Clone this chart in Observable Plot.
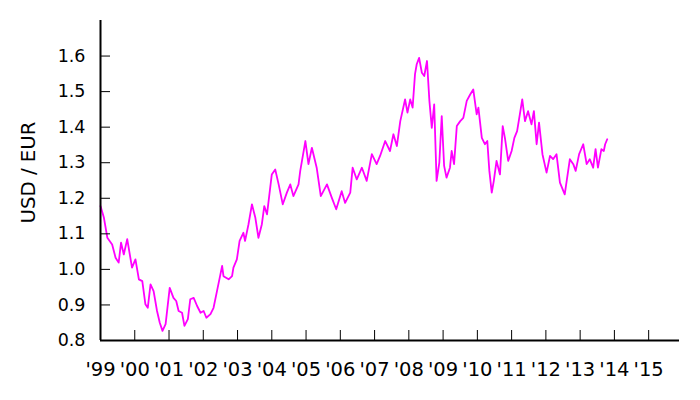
<!DOCTYPE html>
<html>
<head>
<meta charset="utf-8">
<script src="https://cdn.jsdelivr.net/npm/d3@7"></script>
<script src="https://cdn.jsdelivr.net/npm/@observablehq/plot@0.6"></script>
<style>
  html, body { margin: 0; padding: 0; background: #ffffff; }
  #chart { width: 700px; height: 400px; }
</style>
</head>
<body>
<div id="chart"></div>
<script>
// Decimal year of each observation
const dates = [
  1999.00, 1999.10, 1999.20, 1999.34, 1999.44, 1999.53, 1999.60, 1999.68, 1999.78, 1999.92,
  2000.02, 2000.12, 2000.22, 2000.31, 2000.38, 2000.46, 2000.55, 2000.65, 2000.73, 2000.81, 2000.90,
  2001.02, 2001.13, 2001.21, 2001.28, 2001.38, 2001.45, 2001.55, 2001.62, 2001.72, 2001.82, 2001.92,
  2002.01, 2002.09, 2002.21, 2002.30, 2002.40, 2002.50, 2002.55, 2002.59, 2002.74, 2002.84, 2002.88, 2002.98,
  2003.06, 2003.17, 2003.22, 2003.32, 2003.42, 2003.52, 2003.61, 2003.71, 2003.78, 2003.86,
  2004.00, 2004.10, 2004.20, 2004.32, 2004.44, 2004.54, 2004.63, 2004.78, 2004.83, 2004.98,
  2005.07, 2005.17, 2005.31, 2005.43, 2005.61, 2005.75, 2005.88,
  2006.04, 2006.14, 2006.29, 2006.36, 2006.48, 2006.63, 2006.77, 2006.92,
  2007.06, 2007.16, 2007.31, 2007.45, 2007.55, 2007.65, 2007.75, 2007.89, 2007.96,
  2008.04, 2008.11, 2008.18, 2008.23, 2008.30, 2008.38, 2008.45, 2008.53, 2008.60, 2008.67, 2008.74, 2008.81, 2008.89, 2008.96,
  2009.03, 2009.10, 2009.20, 2009.25, 2009.32, 2009.40, 2009.50, 2009.59, 2009.69, 2009.79, 2009.88, 2009.98,
  2010.03, 2010.13, 2010.22, 2010.29, 2010.35, 2010.42, 2010.48, 2010.56, 2010.66, 2010.74, 2010.81, 2010.90,
  2011.00, 2011.08, 2011.16, 2011.24, 2011.31, 2011.39, 2011.48, 2011.58, 2011.65, 2011.73, 2011.80, 2011.90,
  2012.02, 2012.12, 2012.21, 2012.31, 2012.41, 2012.55, 2012.70, 2012.80, 2012.87, 2012.97,
  2013.09, 2013.19, 2013.28, 2013.38, 2013.45, 2013.52, 2013.62, 2013.69, 2013.73, 2013.79
];
// USD per EUR
const rates = [
  1.178, 1.145, 1.089, 1.070, 1.033, 1.019, 1.075, 1.042, 1.085, 1.005,
  1.028, 0.972, 0.967, 0.902, 0.892, 0.958, 0.939, 0.883, 0.850, 0.827, 0.846,
  0.948, 0.920, 0.911, 0.883, 0.878, 0.841, 0.860, 0.916, 0.920, 0.897, 0.878,
  0.883, 0.864, 0.874, 0.892, 0.939, 0.986, 1.010, 0.981, 0.972, 0.981, 1.005, 1.028,
  1.080, 1.103, 1.080, 1.127, 1.183, 1.145, 1.089, 1.127, 1.178, 1.155,
  1.267, 1.281, 1.239, 1.183, 1.216, 1.239, 1.206, 1.239, 1.277, 1.361,
  1.296, 1.342, 1.286, 1.206, 1.239, 1.202, 1.169,
  1.220, 1.187, 1.216, 1.286, 1.253, 1.286, 1.249, 1.324,
  1.296, 1.319, 1.361, 1.333, 1.380, 1.347, 1.417, 1.478, 1.441,
  1.478, 1.455, 1.549, 1.577, 1.595, 1.553, 1.544, 1.586, 1.474, 1.398, 1.464, 1.249, 1.300, 1.431,
  1.291, 1.258, 1.286, 1.333, 1.296, 1.403, 1.417, 1.426, 1.474, 1.492, 1.506, 1.436,
  1.455, 1.370, 1.352, 1.361, 1.277, 1.216, 1.249, 1.305, 1.267, 1.403, 1.366, 1.305,
  1.333, 1.370, 1.389, 1.436, 1.478, 1.417, 1.445, 1.408, 1.445, 1.352, 1.413, 1.324,
  1.272, 1.319, 1.310, 1.324, 1.244, 1.211, 1.310, 1.296, 1.277, 1.324,
  1.352, 1.296, 1.310, 1.286, 1.338, 1.286, 1.338, 1.333, 1.352, 1.366
];
const yearTicks = [1999, 2000, 2001, 2002, 2003, 2004, 2005, 2006, 2007, 2008, 2009, 2010, 2011, 2012, 2013, 2014, 2015];
const rateTicks = [0.8, 0.9, 1.0, 1.1, 1.2, 1.3, 1.4, 1.5, 1.6];
const yLabel = "USD / EUR";

const data = dates.map((d, i) => ({date: d, rate: rates[i]}));

const chart = Plot.plot({
  width: 700,
  height: 400,
  marginLeft: 100,
  marginRight: 21,
  marginTop: 20,
  marginBottom: 60,
  style: {fontFamily: "DejaVu Sans", fontSize: "17px", color: "black", background: "white"},
  x: {domain: [1999, 2015.9]},
  y: {domain: [0.8, 1.7]},
  marks: [
    Plot.line(data, {x: "date", y: "rate", stroke: "#ff00ff", strokeWidth: 1.8}),
    Plot.axisX(yearTicks, {tickSize: -10, tickFormat: () => "", label: null, stroke: "black"}),
    Plot.axisX(yearTicks, {tickSize: 0, tickPadding: 22, label: null, fontSize: 19.5,
      tickFormat: d => "'" + String(d % 100).padStart(2, "0")}),
    Plot.axisY(rateTicks, {tickSize: -10, tickFormat: () => "", label: null, stroke: "black"}),
    Plot.axisY(rateTicks, {tickSize: 0, tickPadding: 15, label: null, fontSize: 17.5, tickFormat: d3.format(".1f")}),
    Plot.ruleY([0.8], {stroke: "black", strokeWidth: 2}),
    Plot.ruleX([1999], {stroke: "black", strokeWidth: 2}),
    Plot.text([yLabel], {frameAnchor: "left", textAnchor: "middle", rotate: -90, dx: -72, dy: -8, fontSize: 19.7})
  ]
});
document.getElementById("chart").appendChild(chart);
</script>
</body>
</html>
